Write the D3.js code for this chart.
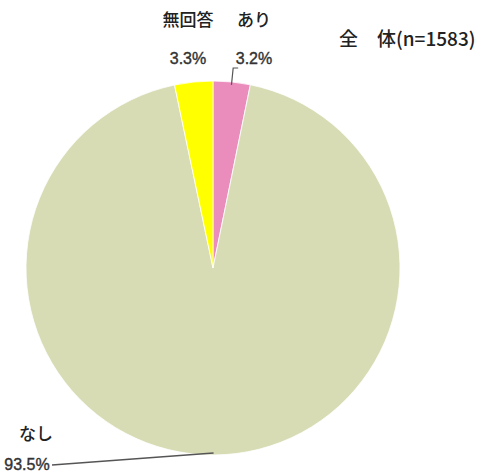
<!DOCTYPE html>
<html>
<head>
<meta charset="utf-8">
<title>全体 pie</title>
<script src="https://d3js.org/d3.v7.min.js"></script>
<style>
  body { margin: 0; background: #fff; }
  text { font-family: "Noto Sans CJK JP", "DejaVu Sans", sans-serif; fill: #222; font-weight: 500; }
  .pct { font-family: "Liberation Sans", Arial, sans-serif; fill: #333; }
</style>
</head>
<body>
<div id="chart"></div>
<script>
// data
var labels = ["あり", "なし", "無回答"];
var values = [3.2, 93.5, 3.3];
var colors = ["#ea8cbc", "#d7dcb4", "#ffff00"];
var title = "全\u3000体(n=1583)";

var width = 494, height = 474;
var cx = 213, cy = 268, radius = 187;

var svg = d3.select("#chart").append("svg")
    .attr("width", width)
    .attr("height", height);

var pie = d3.pie().sort(null).value(function(d) { return d; });
var arcs = pie(values);
var arc = d3.arc().innerRadius(0).outerRadius(radius);

var g = svg.append("g").attr("transform", "translate(" + cx + "," + cy + ")");

g.selectAll("path")
    .data(arcs)
    .enter().append("path")
    .attr("d", arc)
    .style("fill", function(d, i) { return colors[i]; })
    .style("stroke", "#fff")
    .style("stroke-width", 0.8);

// point on the rim at the middle of a slice
function rim(d, r) {
  var a = (d.startAngle + d.endAngle) / 2;
  return [cx + Math.sin(a) * r, cy - Math.cos(a) * r];
}

// label positions (page coords)
var labelPos = [
  { x: 254, y1: 26, y2: 64 },
  { x: 36,  y1: 440, y2: 470, x2: 27 },
  { x: 188, y1: 26, y2: 64 }
];

arcs.forEach(function(d, i) {
  var p = labelPos[i];
  svg.append("text")
      .attr("x", p.x).attr("y", p.y1)
      .attr("text-anchor", "middle")
      .style("font-size", "17px")
      .text(labels[i]);
  svg.append("text")
      .attr("class", "pct")
      .attr("x", p.x2 || p.x).attr("y", p.y2)
      .attr("text-anchor", "middle")
      .style("font-size", "16px")
      .style("stroke", "#333").style("stroke-width", 0.4)
      .text(values[i].toFixed(1) + "%");
});

// leader lines
var line = d3.line();
var a0 = rim(arcs[0], radius - 3), a1 = rim(arcs[0], radius + 14);
svg.append("path")
    .attr("d", line([a0, a1, [a1[0] + 5, a1[1]]]))
    .style("fill", "none").style("stroke", "#555").style("stroke-width", 1.2);

var b0 = rim(arcs[1], radius - 2);
svg.append("path")
    .attr("d", line([b0, [52, 465]]))
    .style("fill", "none").style("stroke", "#555").style("stroke-width", 1.4);

svg.append("text")
    .attr("x", 339).attr("y", 46)
    .style("font-size", "19px")
    .text(title);
</script>
</body>
</html>
